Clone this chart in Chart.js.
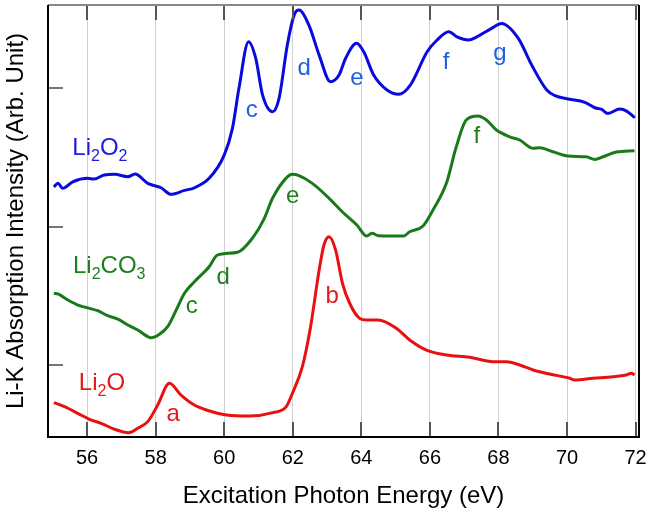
<!DOCTYPE html>
<html>
<head>
<meta charset="utf-8">
<script src="https://cdn.jsdelivr.net/npm/chart.js"></script>
<style>
  body { margin: 0; background: #fff; }
</style>
</head>
<body>
<canvas id="grafico" width="652" height="515"></canvas>
<script>
// Li2O2 (blue, top)
var energiaLi2O2 = [55.03, 55.15, 55.29, 55.58, 56.02, 56.2, 56.5, 56.8, 57.19, 57.4, 57.77, 58.16, 58.45, 58.84, 59.13,
    59.56, 60.0, 60.24, 60.43, 60.71, 60.92, 61.12, 61.41, 61.6, 61.84, 62.04, 62.18, 62.47, 62.77, 63.1, 63.35, 63.54,
    63.86, 64.07, 64.36, 64.75, 65.09, 65.43, 65.92, 66.21, 66.55, 66.79, 67.13, 67.37, 67.8, 68.09, 68.58, 68.97,
    69.41, 69.65, 70.04, 70.52, 70.81, 71.01, 71.19, 71.54, 71.74, 71.98];
var intensidadLi2O2 = [2.287, 2.312, 2.276, 2.323, 2.348, 2.343, 2.372, 2.377, 2.360, 2.379, 2.312, 2.280, 2.233, 2.261, 2.280,
    2.348, 2.516, 2.709, 2.998, 3.334, 3.214, 2.949, 2.829, 2.926, 3.310, 3.527, 3.563, 3.455, 3.238, 3.046, 3.094, 3.214,
    3.323, 3.262, 3.094, 2.986, 2.955, 3.022, 3.262, 3.347, 3.407, 3.370, 3.347, 3.370, 3.431, 3.467, 3.359, 3.166,
    2.986, 2.945, 2.921, 2.897, 2.858, 2.846, 2.817, 2.848, 2.834, 2.786];

// Li2CO3 (green, middle)
var energiaLi2CO3 = [55.03, 55.15, 55.44, 55.73, 56.07, 56.31, 56.6, 56.9, 57.19, 57.48, 57.87, 58.11, 58.35, 58.6, 58.84,
    59.13, 59.56, 59.8, 60.39, 60.82, 61.16, 61.41, 61.8, 61.99, 62.18, 62.57, 63.06, 63.45, 63.87, 64.16, 64.31, 64.5,
    65.23, 65.41, 65.8, 66.09, 66.48, 66.77, 67.06, 67.4, 67.65, 67.94, 68.33, 68.62, 69.01, 69.2, 69.59, 70.03, 70.56,
    70.81, 71.05, 71.44, 71.97];
var intensidadLi2CO3 = [1.518, 1.513, 1.469, 1.433, 1.409, 1.392, 1.356, 1.332, 1.289, 1.253, 1.197, 1.222, 1.277, 1.397, 1.518,
    1.601, 1.710, 1.794, 1.814, 1.915, 2.054, 2.204, 2.348, 2.377, 2.367, 2.312, 2.204, 2.105, 2.011, 1.931, 1.951, 1.934,
    1.931, 1.962, 2.004, 2.119, 2.312, 2.576, 2.769, 2.798, 2.769, 2.697, 2.648, 2.625, 2.565, 2.569, 2.540, 2.509, 2.504,
    2.485, 2.504, 2.538, 2.547];

// Li2O (red, bottom)
var energiaLi2O = [55.03, 55.34, 55.73, 56.07, 56.41, 56.8, 57.21, 57.48, 57.77, 58.06, 58.4, 58.74, 59.13, 59.48, 60.07,
    60.74, 61.42, 61.81, 61.99, 62.28, 62.52, 62.77, 62.91, 63.06, 63.25, 63.45, 63.66, 63.95, 64.15, 64.49, 65.02, 65.41,
    65.9, 66.48, 67.16, 67.84, 68.23, 68.62, 69.01, 69.49, 70.08, 70.22, 70.76, 71.34, 71.73, 71.88, 71.97];
var intensidadLi2O = [0.728, 0.699, 0.651, 0.608, 0.579, 0.536, 0.511, 0.543, 0.591, 0.711, 0.868, 0.783, 0.711, 0.675, 0.639,
    0.632, 0.656, 0.699, 0.796, 0.988, 1.277, 1.686, 1.867, 1.926, 1.830, 1.590, 1.446, 1.337, 1.325, 1.325, 1.265, 1.181,
    1.108, 1.072, 1.056, 1.024, 1.024, 1.000, 0.964, 0.935, 0.904, 0.892, 0.904, 0.915, 0.928, 0.940, 0.928];

var ticksEnergia = [56, 58, 60, 62, 64, 66, 68, 70, 72];
var ticksIntensidad = [1, 2, 3];

// curve labels ("_" marks a subscript digit)
var etiquetas = [
    { texto: 'Li_2O_2', x: 55.57, y: 2.516, color: '#1a1ae0', alinear: 'left' },
    { texto: 'c', x: 60.80, y: 2.793, color: '#2060e0', alinear: 'center' },
    { texto: 'd', x: 62.33, y: 3.094, color: '#2060e0', alinear: 'center' },
    { texto: 'e', x: 63.87, y: 3.022, color: '#2060e0', alinear: 'center' },
    { texto: 'f', x: 66.47, y: 3.135, color: '#2060e0', alinear: 'center' },
    { texto: 'g', x: 68.04, y: 3.202, color: '#2060e0', alinear: 'center' },
    { texto: 'Li_2CO_3', x: 55.59, y: 1.662, color: '#1f7f1f', alinear: 'left' },
    { texto: 'c', x: 59.05, y: 1.373, color: '#1f7f1f', alinear: 'center' },
    { texto: 'd', x: 59.97, y: 1.583, color: '#1f7f1f', alinear: 'center' },
    { texto: 'e', x: 62.00, y: 2.168, color: '#1f7f1f', alinear: 'center' },
    { texto: 'f', x: 67.37, y: 2.601, color: '#1f7f1f', alinear: 'center' },
    { texto: 'Li_2O', x: 55.76, y: 0.820, color: '#e41a1a', alinear: 'left' },
    { texto: 'a', x: 58.51, y: 0.598, color: '#e41a1a', alinear: 'center' },
    { texto: 'b', x: 63.15, y: 1.446, color: '#e41a1a', alinear: 'center' }
];

var fuente = '"Liberation Sans", Arial, sans-serif';

function puntos(xs, ys) {
    return xs.map(function (x, i) { return { x: x, y: ys[i] }; });
}

function serie(nombre, xs, ys, color) {
    return {
        label: nombre,
        data: puntos(xs, ys),
        borderColor: color,
        borderWidth: 3,
        pointRadius: 0,
        fill: false,
        cubicInterpolationMode: 'monotone',
        borderJoinStyle: 'round'
    };
}

function dibujarTexto(ctx, texto, x, y, alinear) {
    var partes = [];
    texto.split('_').forEach(function (p, i) {
        if (i === 0) {
            if (p) partes.push([p, false]);
        } else {
            partes.push([p[0], true]);
            if (p.length > 1) partes.push([p.slice(1), false]);
        }
    });
    var fNormal = '24px ' + fuente, fSub = '16px ' + fuente;
    var ancho = 0;
    partes.forEach(function (p) {
        ctx.font = p[1] ? fSub : fNormal;
        ancho += ctx.measureText(p[0]).width;
    });
    var cx = alinear === 'center' ? x - ancho / 2 : x;
    ctx.textAlign = 'left';
    ctx.textBaseline = 'alphabetic';
    partes.forEach(function (p) {
        ctx.font = p[1] ? fSub : fNormal;
        ctx.fillText(p[0], cx, p[1] ? y + 6 : y);
        cx += ctx.measureText(p[0]).width;
    });
}

var etiquetasPlugin = {
    id: 'etiquetas',
    afterDatasetsDraw: function (chart) {
        var ctx = chart.ctx, sx = chart.scales.x, sy = chart.scales.y;
        ctx.save();
        etiquetas.forEach(function (e) {
            ctx.fillStyle = e.color;
            dibujarTexto(ctx, e.texto, sx.getPixelForValue(e.x), sy.getPixelForValue(e.y), e.alinear);
        });
        ctx.restore();
    }
};

// frame and inward tick marks
var marcoPlugin = {
    id: 'marco',
    afterDraw: function (chart) {
        var ctx = chart.ctx, a = chart.chartArea;
        var sx = chart.scales.x, sy = chart.scales.y;
        ctx.save();
        ctx.lineWidth = 2;
        ctx.strokeStyle = '#555';
        ticksEnergia.forEach(function (t) {
            var px = Math.round(sx.getPixelForValue(t));
            ctx.beginPath();
            ctx.moveTo(px, a.bottom); ctx.lineTo(px, a.bottom - 15);
            ctx.moveTo(px, a.top); ctx.lineTo(px, a.top + 15);
            ctx.stroke();
        });
        ctx.strokeStyle = '#777';
        ticksIntensidad.forEach(function (t) {
            var py = Math.round(sy.getPixelForValue(t));
            ctx.beginPath();
            ctx.moveTo(a.left, py); ctx.lineTo(a.left + 15, py);
            ctx.stroke();
        });
        ctx.lineWidth = 2;
        ctx.strokeStyle = '#888';
        ctx.beginPath();
        ctx.moveTo(a.left, a.top); ctx.lineTo(a.right, a.top);
        ctx.stroke();
        ctx.strokeStyle = '#000';
        ctx.beginPath();
        ctx.moveTo(a.right, a.top); ctx.lineTo(a.right, a.bottom);
        ctx.lineTo(a.left, a.bottom); ctx.lineTo(a.left, a.top);
        ctx.stroke();
        ctx.restore();
    }
};

var ctx1 = document.getElementById('grafico').getContext('2d');
window.grafico = new Chart(ctx1, {
    type: 'line',
    data: {
        datasets: [
            serie('Li2O2', energiaLi2O2, intensidadLi2O2, '#0a0ae0'),
            serie('Li2CO3', energiaLi2CO3, intensidadLi2CO3, '#1a7a1a'),
            serie('Li2O', energiaLi2O, intensidadLi2O, '#e81010')
        ]
    },
    options: {
        responsive: false,
        animation: false,
        layout: { padding: { top: 5, right: 13, left: 0, bottom: 0 } },
        plugins: {
            legend: { display: false },
            tooltip: { enabled: false }
        },
        scales: {
            x: {
                type: 'linear',
                min: 54.86,
                max: 72.1,
                afterFit: function (s) { s.height = 78; },
                afterBuildTicks: function (s) {
                    s.ticks = ticksEnergia.map(function (v) { return { value: v }; });
                },
                ticks: {
                    includeBounds: false,
                    color: '#000',
                    padding: 2,
                    maxRotation: 0,
                    font: { family: fuente, size: 20 }
                },
                grid: { color: '#d0d0d0', lineWidth: 1, drawTicks: true, tickLength: 7, tickColor: 'rgba(0,0,0,0)' },
                border: { display: false },
                title: {
                    display: true,
                    text: 'Excitation Photon Energy (eV)',
                    color: '#000',
                    font: { family: fuente, size: 24 },
                    padding: { top: 2 }
                }
            },
            y: {
                type: 'linear',
                min: 0.48,
                max: 3.6,
                afterFit: function (s) { s.width = 48; },
                ticks: { display: false },
                grid: { display: false, drawTicks: false },
                border: { display: false },
                title: {
                    display: true,
                    text: 'Li-K Absorption Intensity (Arb. Unit)',
                    color: '#000',
                    font: { family: fuente, size: 24 },
                    padding: { top: 2 }
                }
            }
        }
    },
    plugins: [etiquetasPlugin, marcoPlugin]
});
</script>
</body>
</html>
